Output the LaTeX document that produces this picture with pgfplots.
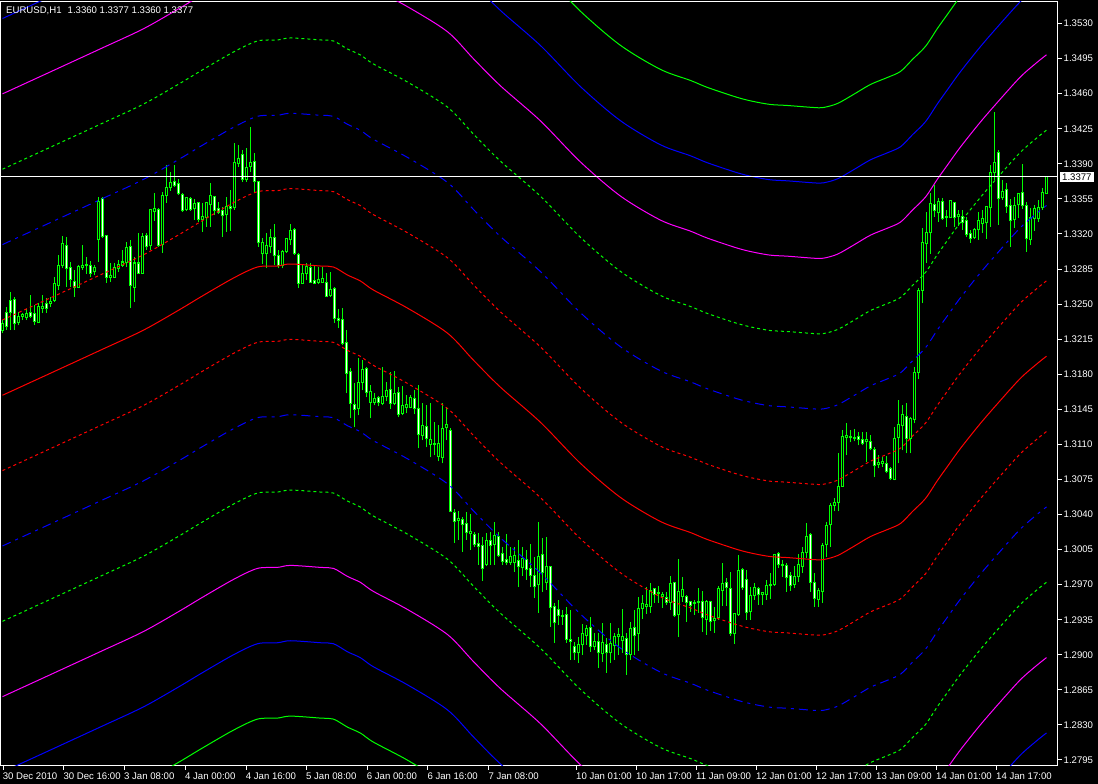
\documentclass[border=0pt]{standalone}
\usepackage{pgfplots}
\pgfplotsset{compat=1.18}
\usepackage{pgfplotstable}
\usepackage{fontspec}
\setmainfont{Liberation Sans}
\definecolor{mtgreen}{HTML}{00FF00}
\definecolor{mtred}{HTML}{FF0000}
\definecolor{mtblue}{HTML}{0000FF}
\definecolor{mtmag}{HTML}{FF00FF}
\pgfplotstableread{
i o h l c
0 1.3224 1.3234 1.3221 1.3231
1 1.3242 1.3247 1.3224 1.3228
2 1.3254 1.3262 1.3224 1.3242
3 1.3255 1.3257 1.3224 1.3231
4 1.3232 1.3242 1.3229 1.3238
5 1.3238 1.3241 1.3234 1.3240
6 1.3237 1.3245 1.3234 1.3241
7 1.3242 1.3259 1.3236 1.3238
8 1.3241 1.3249 1.3229 1.3233
9 1.3232 1.3251 1.3231 1.3248
10 1.3246 1.3259 1.3241 1.3248
11 1.3251 1.3256 1.3241 1.3246
12 1.3251 1.3257 1.3247 1.3253
13 1.3254 1.3277 1.3252 1.3271
14 1.3269 1.3299 1.3264 1.3289
15 1.3289 1.3318 1.3286 1.3310
16 1.3308 1.3317 1.3267 1.3286
17 1.3287 1.3292 1.3267 1.3275
18 1.3273 1.3284 1.3257 1.3267
19 1.3267 1.3289 1.3266 1.3288
20 1.3287 1.3309 1.3284 1.3289
21 1.3289 1.3297 1.3280 1.3290
22 1.3289 1.3293 1.3277 1.3281
23 1.3283 1.3289 1.3279 1.3287
24 1.3314 1.3357 1.3292 1.3352
25 1.3355 1.3357 1.3316 1.3317
26 1.3318 1.3319 1.3271 1.3277
27 1.3277 1.3291 1.3272 1.3279
28 1.3277 1.3291 1.3276 1.3287
29 1.3286 1.3294 1.3282 1.3290
30 1.3289 1.3304 1.3287 1.3292
31 1.3291 1.3312 1.3287 1.3306
32 1.3307 1.3314 1.3246 1.3269
33 1.3267 1.3297 1.3252 1.3291
34 1.3291 1.3321 1.3280 1.3281
35 1.3281 1.3321 1.3281 1.3317
36 1.3318 1.3321 1.3304 1.3307
37 1.3308 1.3344 1.3304 1.3344
38 1.3342 1.3361 1.3333 1.3345
39 1.3344 1.3346 1.3307 1.3308
40 1.3309 1.3362 1.3301 1.3358
41 1.3358 1.3389 1.3351 1.3366
42 1.3366 1.3382 1.3363 1.3371
43 1.3372 1.3389 1.3367 1.3368
44 1.3370 1.3375 1.3359 1.3360
45 1.3359 1.3361 1.3342 1.3343
46 1.3344 1.3357 1.3343 1.3356
47 1.3355 1.3357 1.3343 1.3344
48 1.3345 1.3355 1.3334 1.3350
49 1.3351 1.3352 1.3332 1.3334
50 1.3334 1.3351 1.3322 1.3337
51 1.3336 1.3352 1.3327 1.3351
52 1.3349 1.3371 1.3327 1.3358
53 1.3357 1.3357 1.3339 1.3343
54 1.3345 1.3352 1.3340 1.3341
55 1.3343 1.3347 1.3317 1.3338
56 1.3339 1.3357 1.3322 1.3347
57 1.3347 1.3364 1.3323 1.3345
58 1.3346 1.3411 1.3344 1.3391
59 1.3390 1.3409 1.3387 1.3395
60 1.3399 1.3404 1.3372 1.3374
61 1.3374 1.3406 1.3372 1.3386
62 1.3387 1.3427 1.3382 1.3391
63 1.3392 1.3401 1.3361 1.3372
64 1.3372 1.3372 1.3307 1.3311
65 1.3300 1.3316 1.3290 1.3311
66 1.3300 1.3321 1.3286 1.3308
67 1.3307 1.3325 1.3301 1.3316
68 1.3316 1.3330 1.3289 1.3298
69 1.3298 1.3304 1.3286 1.3289
70 1.3289 1.3304 1.3286 1.3302
71 1.3302 1.3316 1.3301 1.3315
72 1.3314 1.3330 1.3309 1.3323
73 1.3324 1.3326 1.3299 1.3300
74 1.3299 1.3301 1.3266 1.3271
75 1.3271 1.3289 1.3270 1.3281
76 1.3281 1.3291 1.3274 1.3288
77 1.3287 1.3291 1.3271 1.3272
78 1.3274 1.3289 1.3270 1.3271
79 1.3272 1.3287 1.3270 1.3275
80 1.3272 1.3287 1.3271 1.3276
81 1.3272 1.3281 1.3257 1.3258
82 1.3259 1.3282 1.3257 1.3265
83 1.3266 1.3267 1.3231 1.3236
84 1.3236 1.3245 1.3226 1.3234
85 1.3235 1.3246 1.3209 1.3211
86 1.3212 1.3224 1.3161 1.3181
87 1.3183 1.3186 1.3136 1.3151
88 1.3150 1.3171 1.3127 1.3145
89 1.3146 1.3196 1.3139 1.3172
90 1.3172 1.3194 1.3164 1.3185
91 1.3186 1.3187 1.3157 1.3162
92 1.3152 1.3169 1.3136 1.3163
93 1.3152 1.3161 1.3149 1.3156
94 1.3157 1.3158 1.3148 1.3152
95 1.3151 1.3187 1.3149 1.3158
96 1.3158 1.3172 1.3153 1.3164
97 1.3165 1.3182 1.3145 1.3151
98 1.3151 1.3183 1.3149 1.3161
99 1.3162 1.3167 1.3137 1.3140
100 1.3141 1.3168 1.3139 1.3149
101 1.3147 1.3159 1.3141 1.3150
102 1.3147 1.3159 1.3146 1.3157
103 1.3156 1.3164 1.3140 1.3146
104 1.3146 1.3169 1.3106 1.3120
105 1.3119 1.3151 1.3114 1.3129
106 1.3128 1.3149 1.3107 1.3116
107 1.3110 1.3151 1.3097 1.3115
108 1.3110 1.3132 1.3099 1.3111
109 1.3098 1.3129 1.3093 1.3111
110 1.3097 1.3151 1.3091 1.3126
111 1.3127 1.3147 1.3114 1.3130
112 1.3124 1.3126 1.3042 1.3043
113 1.3042 1.3045 1.3012 1.3033
114 1.3034 1.3043 1.3015 1.3036
115 1.3035 1.3038 1.3003 1.3030
116 1.3031 1.3042 1.3015 1.3022
117 1.3021 1.3040 1.3005 1.3023
118 1.3020 1.3023 1.3008 1.3010
119 1.3011 1.3022 1.2990 1.3008
120 1.3009 1.3018 1.2974 1.2986
121 1.2990 1.3022 1.2989 1.3014
122 1.3014 1.3023 1.2990 1.3009
123 1.3010 1.3033 1.2990 1.3019
124 1.3018 1.3023 1.2998 1.2999
125 1.3001 1.3008 1.2990 1.2993
126 1.2995 1.3021 1.2990 1.2992
127 1.2992 1.3008 1.2990 1.2998
128 1.2992 1.3008 1.2983 1.2999
129 1.2994 1.3015 1.2968 1.2988
130 1.2987 1.3008 1.2979 1.2996
131 1.2995 1.3005 1.2975 1.2985
132 1.2986 1.3011 1.2968 1.2979
133 1.2979 1.2998 1.2957 1.2968
134 1.2970 1.3033 1.2942 1.2998
135 1.3000 1.3017 1.2963 1.2982
136 1.2972 1.3018 1.2965 1.2988
137 1.2988 1.2989 1.2928 1.2947
138 1.2948 1.2952 1.2912 1.2932
139 1.2945 1.2955 1.2930 1.2939
140 1.2938 1.2945 1.2930 1.2939
141 1.2940 1.2948 1.2912 1.2915
142 1.2915 1.2945 1.2895 1.2913
143 1.2908 1.2913 1.2895 1.2902
144 1.2902 1.2918 1.2892 1.2910
145 1.2910 1.2931 1.2900 1.2921
146 1.2919 1.2930 1.2910 1.2926
147 1.2927 1.2938 1.2903 1.2908
148 1.2908 1.2922 1.2905 1.2913
149 1.2913 1.2922 1.2887 1.2902
150 1.2901 1.2932 1.2893 1.2912
151 1.2910 1.2917 1.2882 1.2902
152 1.2902 1.2932 1.2892 1.2911
153 1.2909 1.2922 1.2895 1.2918
154 1.2918 1.2927 1.2900 1.2920
155 1.2914 1.2946 1.2902 1.2918
156 1.2916 1.2922 1.2880 1.2900
157 1.2900 1.2933 1.2895 1.2926
158 1.2927 1.2945 1.2900 1.2919
159 1.2921 1.2958 1.2904 1.2946
160 1.2946 1.2960 1.2936 1.2951
161 1.2948 1.2968 1.2941 1.2950
162 1.2948 1.2972 1.2942 1.2964
163 1.2966 1.2967 1.2952 1.2960
164 1.2961 1.2969 1.2952 1.2962
165 1.2958 1.2963 1.2947 1.2960
166 1.2957 1.2963 1.2950 1.2952
167 1.2952 1.2979 1.2945 1.2971
168 1.2972 1.2973 1.2938 1.2939
169 1.2940 1.2996 1.2918 1.2963
170 1.2958 1.2978 1.2953 1.2965
171 1.2958 1.2960 1.2933 1.2952
172 1.2953 1.2954 1.2943 1.2949
173 1.2951 1.2955 1.2940 1.2952
174 1.2953 1.2967 1.2942 1.2952
175 1.2953 1.2964 1.2923 1.2937
176 1.2935 1.2955 1.2920 1.2953
177 1.2953 1.2954 1.2924 1.2933
178 1.2934 1.2948 1.2922 1.2936
179 1.2937 1.2969 1.2935 1.2966
180 1.2964 1.2992 1.2949 1.2971
181 1.2972 1.2977 1.2949 1.2967
182 1.2966 1.2983 1.2919 1.2921
183 1.2921 1.2942 1.2911 1.2941
184 1.2940 1.3000 1.2939 1.2984
185 1.2985 1.2987 1.2965 1.2967
186 1.2975 1.2985 1.2935 1.2942
187 1.2943 1.2968 1.2935 1.2959
188 1.2959 1.2972 1.2955 1.2967
189 1.2966 1.2968 1.2950 1.2960
190 1.2960 1.2963 1.2950 1.2962
191 1.2960 1.2975 1.2955 1.2969
192 1.2969 1.2982 1.2956 1.2970
193 1.2970 1.3001 1.2969 1.3000
194 1.3001 1.3003 1.2987 1.2990
195 1.2990 1.2995 1.2978 1.2989
196 1.2989 1.2992 1.2963 1.2977
197 1.2979 1.2983 1.2964 1.2969
198 1.2970 1.2989 1.2967 1.2978
199 1.2978 1.3001 1.2973 1.2990
200 1.2988 1.3008 1.2982 1.3002
201 1.3002 1.3032 1.2997 1.3018
202 1.3020 1.3022 1.2963 1.2972
203 1.2972 1.2982 1.2948 1.2956
204 1.2955 1.2967 1.2948 1.2964
205 1.2963 1.3012 1.2952 1.3009
206 1.3010 1.3033 1.2998 1.3029
207 1.3030 1.3051 1.3008 1.3049
208 1.3049 1.3056 1.3043 1.3052
209 1.3052 1.3101 1.3043 1.3068
210 1.3068 1.3124 1.3068 1.3118
211 1.3117 1.3131 1.3099 1.3119
212 1.3118 1.3124 1.3112 1.3117
213 1.3117 1.3125 1.3113 1.3116
214 1.3118 1.3122 1.3109 1.3115
215 1.3115 1.3122 1.3109 1.3111
216 1.3113 1.3122 1.3092 1.3115
217 1.3113 1.3119 1.3104 1.3106
218 1.3105 1.3107 1.3077 1.3089
219 1.3090 1.3099 1.3086 1.3092
220 1.3091 1.3097 1.3087 1.3093
221 1.3091 1.3098 1.3081 1.3083
222 1.3086 1.3087 1.3074 1.3076
223 1.3075 1.3127 1.3074 1.3116
224 1.3117 1.3154 1.3091 1.3130
225 1.3129 1.3149 1.3104 1.3140
226 1.3138 1.3151 1.3101 1.3116
227 1.3116 1.3137 1.3101 1.3136
228 1.3135 1.3187 1.3131 1.3182
229 1.3182 1.3266 1.3175 1.3264
230 1.3264 1.3326 1.3251 1.3311
231 1.3310 1.3342 1.3291 1.3321
232 1.3321 1.3361 1.3300 1.3350
233 1.3349 1.3369 1.3337 1.3343
234 1.3341 1.3356 1.3332 1.3352
235 1.3352 1.3356 1.3334 1.3335
236 1.3336 1.3344 1.3327 1.3337
237 1.3336 1.3353 1.3336 1.3353
238 1.3351 1.3352 1.3327 1.3336
239 1.3337 1.3344 1.3328 1.3339
240 1.3337 1.3344 1.3324 1.3331
241 1.3333 1.3337 1.3317 1.3319
242 1.3320 1.3324 1.3311 1.3315
243 1.3316 1.3326 1.3315 1.3324
244 1.3324 1.3342 1.3314 1.3333
245 1.3330 1.3344 1.3321 1.3335
246 1.3331 1.3347 1.3315 1.3347
247 1.3346 1.3389 1.3327 1.3381
248 1.3381 1.3442 1.3374 1.3391
249 1.3401 1.3404 1.3329 1.3355
250 1.3356 1.3374 1.3354 1.3362
251 1.3364 1.3371 1.3341 1.3347
252 1.3348 1.3355 1.3307 1.3333
253 1.3334 1.3357 1.3326 1.3348
254 1.3349 1.3361 1.3336 1.3360
255 1.3361 1.3390 1.3345 1.3348
256 1.3348 1.3352 1.3302 1.3315
257 1.3314 1.3346 1.3309 1.3336
258 1.3335 1.3349 1.3323 1.3345
259 1.3335 1.3354 1.3332 1.3346
260 1.3346 1.3366 1.3344 1.3361
261 1.3360 1.3377 1.3360 1.3377
}\candles
\pgfplotstableread{
b m
0 1.3159
12 1.3181
24.5 1.3204
35.25 1.3224
44.5 1.3245
49.5 1.3257
57.75 1.3276
63.75 1.3287
68.75 1.3288
72 1.3290
79.5 1.3288
82.75 1.3287
86.25 1.3279
89.5 1.3273
92.75 1.3264
101.25 1.3246
111.25 1.3221
117.75 1.3194
124.5 1.3167
134.5 1.3132
144.5 1.3091
154.5 1.3057
164.5 1.3033
172 1.3022
176.25 1.3015
183.75 1.3005
187.75 1.3001
192 1.2998
196.25 1.2997
202.75 1.2995
205.25 1.2995
208.75 1.2999
212.75 1.3008
217 1.3018
221.25 1.3025
224.5 1.3031
227.5 1.3043
230.75 1.3056
233.75 1.3074
236.25 1.3088
239.5 1.3106
244.5 1.3131
249.5 1.3154
254.5 1.3176
258.5 1.3190
261 1.3198
}\bandmid
\newcommand{\bw}{0.00752}
\begin{document}
\begin{tikzpicture}[x=1pt,y=1pt]
\fill[black] (0,0) rectangle (1098,784);
\useasboundingbox (0,0) rectangle (1098,784);
\begin{axis}[
  at={(1pt,18pt)}, anchor=south west, scale only axis,
  width=1057pt, height=764pt,
  xmin=-0.375, xmax=263.875, ymin=1.27890, ymax=1.35515,
  axis line style={white, line width=1pt},
  tick style={white, line width=1pt},
  tick align=outside, major tick length=4pt,
  xtick pos=lower, ytick pos=upper, yticklabel pos=upper,
  xtick={0.17,15.33,30.5,45.75,60.93,76,91.17,106.33,121.58,143.5,158.5,173.5,188.5,203.5,218.5,233.5,248.5},
  xticklabels={30 Dec 2010,30 Dec 16:00,3 Jan 08:00,4 Jan 00:00,4 Jan 16:00,5 Jan 08:00,6 Jan 00:00,6 Jan 16:00,7 Jan 08:00,10 Jan 01:00,10 Jan 17:00,11 Jan 09:00,12 Jan 01:00,12 Jan 17:00,13 Jan 09:00,14 Jan 01:00,14 Jan 17:00},
  ytick={1.2795,1.2830,1.2865,1.2900,1.2935,1.2970,1.3005,1.3040,1.3075,1.3110,1.3145,1.3180,1.3215,1.3250,1.3285,1.3320,1.3355,1.3390,1.3425,1.3460,1.3495,1.3530},
  yticklabels={1.2795,1.2830,1.2865,1.2900,1.2935,1.2970,1.3005,1.3040,1.3075,1.3110,1.3145,1.3180,1.3215,1.3250,1.3285,1.3320,1.3355,1.3390,1.3425,1.3460,1.3495,1.3530},
  xticklabel style={font=\fontsize{9.6}{10}\selectfont, text=white, anchor=north west, xshift=-2pt, yshift=-1pt, inner sep=1.5pt},
  yticklabel style={font=\fontsize{9.6}{10}\selectfont, text=white, anchor=west, inner sep=1.5pt},
  axis background/.style={fill=black},
  unbounded coords=discard,
]
% wicks
\addplot[forget plot, draw=mtgreen, line width=1pt, mark=none,
  quiver={u=0, v={\thisrow{h}-\thisrow{l}}}]
  table[x=i, y=l] {\candles};
% body outline
\addplot[forget plot, draw=mtgreen, line width=3pt, mark=none,
  quiver={u=0, v={abs(\thisrow{o}-\thisrow{c})+0.0001}}]
  table[x=i, y expr={min(\thisrow{o},\thisrow{c})-0.00005}] {\candles};
% hollow interiors (all bodies taller than two pixels)
\addplot[forget plot, draw=black, line width=1pt, mark=none,
  quiver={u=0, v={max(abs(\thisrow{o}-\thisrow{c})-0.0001,0)}}]
  table[x=i, y expr={min(\thisrow{o},\thisrow{c})+0.00005}] {\candles};
% bear interiors (white)
\addplot[forget plot, draw=white, line width=1pt, mark=none,
  quiver={u=0, v={max(\thisrow{o}-\thisrow{c}-0.0001,0)}}]
  table[x=i, y expr={\thisrow{c}+0.00005}] {\candles};
% bands
\addplot[mtred, line width=1pt, smooth, tension=0.5, mark=none] table[x=b, y=m] {\bandmid};
\addplot[mtred, line width=1pt, smooth, tension=0.5, mark=none, dash pattern=on 3pt off 3pt] table[x=b, y expr=\thisrow{m}+\bw] {\bandmid};
\addplot[mtred, line width=1pt, smooth, tension=0.5, mark=none, dash pattern=on 3pt off 3pt] table[x=b, y expr=\thisrow{m}-\bw] {\bandmid};
\addplot[mtblue, line width=1pt, smooth, tension=0.5, mark=none, dash pattern=on 9pt off 5pt on 3pt off 5pt] table[x=b, y expr=\thisrow{m}+2*\bw] {\bandmid};
\addplot[mtblue, line width=1pt, smooth, tension=0.5, mark=none, dash pattern=on 9pt off 5pt on 3pt off 5pt] table[x=b, y expr=\thisrow{m}-2*\bw] {\bandmid};
\addplot[mtgreen, line width=1pt, smooth, tension=0.5, mark=none, dash pattern=on 3pt off 3pt] table[x=b, y expr=\thisrow{m}+3*\bw] {\bandmid};
\addplot[mtgreen, line width=1pt, smooth, tension=0.5, mark=none, dash pattern=on 3pt off 3pt] table[x=b, y expr=\thisrow{m}-3*\bw] {\bandmid};
\addplot[mtmag, line width=1pt, smooth, tension=0.5, mark=none] table[x=b, y expr=\thisrow{m}+4*\bw] {\bandmid};
\addplot[mtmag, line width=1pt, smooth, tension=0.5, mark=none] table[x=b, y expr=\thisrow{m}-4*\bw] {\bandmid};
\addplot[mtblue, line width=1pt, smooth, tension=0.5, mark=none] table[x=b, y expr=\thisrow{m}+5*\bw] {\bandmid};
\addplot[mtblue, line width=1pt, smooth, tension=0.5, mark=none] table[x=b, y expr=\thisrow{m}-5*\bw] {\bandmid};
\addplot[mtgreen, line width=1pt, smooth, tension=0.5, mark=none] table[x=b, y expr=\thisrow{m}+6*\bw] {\bandmid};
\addplot[mtgreen, line width=1pt, smooth, tension=0.5, mark=none] table[x=b, y expr=\thisrow{m}-6*\bw] {\bandmid};
% bid line
\addplot[white, line width=1pt, mark=none] coordinates {(-0.375,1.3377) (263.875,1.3377)};
\coordinate (bid) at (axis cs:263.875,1.3377);
\end{axis}
\node[fill=white, text=black, anchor=west, inner xsep=2pt, inner ysep=1.5pt, font=\fontsize{9.6}{10}\selectfont, xshift=2pt] at (bid) {1.3377};
\node[text=white, anchor=west, inner sep=0pt, font=\fontsize{9.6}{10}\selectfont] at (6,773) {EURUSD,H1\hspace{6pt}1.3360 1.3377 1.3360 1.3377};
\end{tikzpicture}
\end{document}
